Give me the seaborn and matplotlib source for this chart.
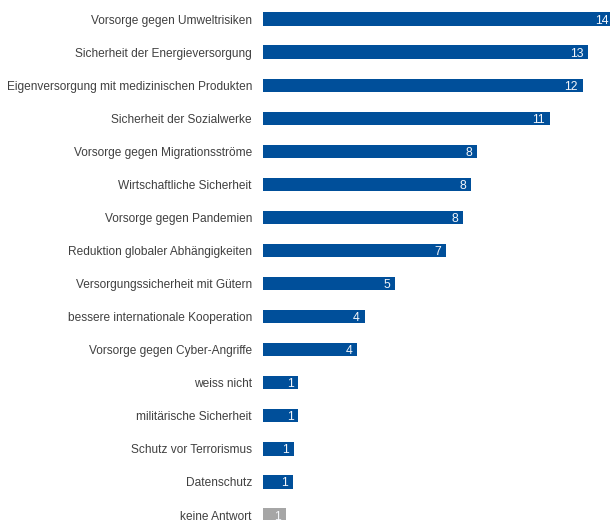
import matplotlib
matplotlib.use("Agg")
import pandas as pd
import seaborn as sns
import matplotlib.pyplot as plt

# -------------------- data -------------------- #

categories = [
    "Vorsorge gegen Umweltrisiken",
    "Sicherheit der Energieversorgung",
    "Eigenversorgung mit medizinischen Produkten",
    "Sicherheit der Sozialwerke",
    "Vorsorge gegen Migrationsströme",
    "Wirtschaftliche Sicherheit",
    "Vorsorge gegen Pandemien",
    "Reduktion globaler Abhängigkeiten",
    "Versorgungssicherheit mit Gütern",
    "bessere internationale Kooperation",
    "Vorsorge gegen Cyber-Angriffe",
    "weiss nicht",
    "militärische Sicherheit",
    "Schutz vor Terrorismus",
    "Datenschutz",
    "keine Antwort",
]
values = [13.6, 12.61, 12.39, 11.12, 8.28, 8.05, 7.76, 7.09, 5.12, 3.94, 3.66,
          1.37, 1.37, 1.21, 1.17, 0.88]
groups = ["main"] * 15 + ["none"]

df = pd.DataFrame({"category": categories, "value": values, "group": groups})

BLUE = "#004f9a"
GREY = "#a6a6a6"
TEXT = "#404040"

# -------------------- plot -------------------- #

sns.set_style("white")
plt.rcParams["font.family"] = ["Liberation Sans", "DejaVu Sans"]

fig = plt.figure(figsize=(6.1, 5.2), dpi=100)
ax = fig.add_axes([263 / 610, 0, 1 - 263 / 610, 1])

sns.barplot(data=df, y="category", x="value", hue="group", orient="h",
            palette={"main": BLUE, "none": GREY}, width=0.4, legend=False,
            saturation=1, linewidth=0, ax=ax)

ax.set_xlim(0, 13.45)
ax.set_ylim(15.15, -0.575)
ax.set(xlabel="", ylabel="", xticks=[])
sns.despine(ax=ax, left=True, bottom=True, top=True, right=True)
ax.tick_params(axis="y", length=0, pad=8, labelsize=8.6, labelcolor=TEXT)

# value labels inside the bar ends
for i, v in enumerate(values):
    ax.annotate(f"{round(v):d}", xy=(v, i), xytext=(-3.5, 0),
                textcoords="offset points", ha="right", va="center_baseline",
                color="#f4f6fa", fontsize=8.8, annotation_clip=False)

fig.savefig("out.png", dpi=100)
